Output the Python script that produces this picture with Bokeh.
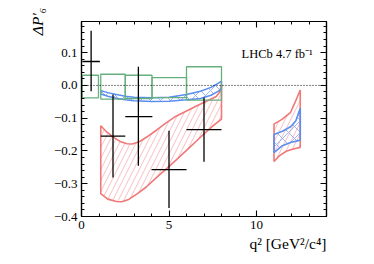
import numpy as np
from bokeh.plotting import figure
from bokeh.models import (LinearAxis, FixedTicker, CustomJSTickFormatter, Label,
                          Span, Range1d, Title)
from bokeh.embed import file_html
from bokeh.resources import INLINE

# ---------------- data ----------------
# LHCb data points
data_x = [0.55, 1.8, 3.25, 5.0, 7.0]
data_x_lo = [0.05, 1.1, 2.5, 4.0, 6.0]
data_x_hi = [1.05, 2.5, 4.05, 6.0, 8.0]
data_y = [0.073, -0.155, -0.095, -0.257, -0.135]
data_y_hi = [0.167, -0.028, 0.057, -0.138, -0.037]
data_y_lo = [-0.018, -0.281, -0.245, -0.374, -0.233]

# green boxes (prediction)
green_lo = [0.05, 1.1, 2.5, 4.03, 6.0]
green_hi = [0.97, 2.5, 4.03, 6.0, 8.0]
green_top = [0.031, 0.034, 0.031, 0.024, 0.057]
green_bot = [-0.038, -0.042, -0.040, -0.037, -0.045]

# red band, low q2
red1_up_x = [1.1, 1.4, 1.8, 2.2, 2.6, 2.9, 3.3, 3.8, 4.3, 4.8, 5.4, 6.0, 6.6, 7.2, 7.7, 7.9, 8.0]
red1_up_y = [-0.123, -0.140, -0.157, -0.171, -0.178, -0.179, -0.172, -0.155, -0.136,
             -0.116, -0.094, -0.078, -0.062, -0.047, -0.034, -0.020, 0.003]
red1_lo_x = [1.1, 1.5, 2.0, 2.3, 2.7, 3.2, 3.7, 4.2, 4.8, 5.4, 6.0, 6.6, 7.2, 7.6, 8.0]
red1_lo_y = [-0.330, -0.347, -0.354, -0.355, -0.348, -0.330, -0.310, -0.285, -0.257,
             -0.228, -0.198, -0.168, -0.138, -0.120, -0.103]

# red band, high q2
red2_up_x = [11.0, 11.48, 11.95, 12.2, 12.5]
red2_up_y = [-0.118, -0.103, -0.082, -0.052, -0.014]
red2_lo_x = [11.0, 11.3, 11.7, 12.1, 12.5]
red2_lo_y = [-0.232, -0.215, -0.201, -0.194, -0.189]

# blue band, low q2
blue1_up_x = [1.1, 1.5, 2.0, 2.5, 3.0, 4.0, 5.0, 6.0, 6.8, 7.4, 7.8, 8.0]
blue1_up_y = [-0.016, -0.022, -0.028, -0.033, -0.036, -0.038, -0.036, -0.028, -0.018,
              -0.006, 0.006, 0.013]
blue1_lo_x = [1.1, 1.5, 2.0, 2.5, 3.0, 4.0, 5.0, 6.0, 6.8, 7.4, 7.8, 8.0]
blue1_lo_y = [-0.026, -0.033, -0.039, -0.044, -0.047, -0.049, -0.048, -0.044, -0.040,
              -0.030, -0.018, -0.010]

# blue band, high q2
blue2_up_x = [11.0, 11.48, 11.95, 12.25, 12.5]
blue2_up_y = [-0.150, -0.140, -0.126, -0.108, -0.070]
blue2_lo_x = [11.0, 11.48, 11.95, 12.5]
blue2_lo_y = [-0.205, -0.184, -0.174, -0.167]

x_major = [0, 5, 10]
x_minor = list(range(0, 15))
y_major = [-0.4, -0.3, -0.2, -0.1, 0.0, 0.1]
y_minor = [round(-0.4 + 0.02 * i, 2) for i in range(0, 30)]

x_title = "q\u00b2 [GeV\u00b2/c\u2074]"
y_title = "\u0394P\u2032\u2086"
lumi_text = "LHCb 4.7 fb\u207b\u00b9"

# ---------------- figure ----------------
FONT = "Liberation Serif"
RED = "#f07878"
RED_H = "#f6b0b0"
BLUE = "#5b8def"
BLUE_H = "#7fa6f2"
GREEN = "#66b07e"

p = figure(width=358, height=260, output_backend="svg", toolbar_location=None,
           x_range=Range1d(0, 14), y_range=Range1d(-0.4, 0.195),
           min_border_left=81, min_border_right=32, min_border_top=21,
           min_border_bottom=44)
p.grid.visible = False
p.outline_line_color = "black"
p.outline_line_width = 1.2
p.background_fill_color = "white"
p.border_fill_color = "white"


def band(xu, yu, xl, yl, color, hcolor, pattern, scale, lw):
    xs = list(xu) + list(xl)[::-1]
    ys = list(yu) + list(yl)[::-1]
    p.patch(xs, ys, fill_alpha=0, line_color=color, line_width=lw,
            hatch_pattern=pattern, hatch_color=hcolor, hatch_scale=scale,
            hatch_weight=0.9, hatch_alpha=0.9)


band(red1_up_x, red1_up_y, red1_lo_x, red1_lo_y, RED, RED_H, "/", 11, 1.6)
band(red2_up_x, red2_up_y, red2_lo_x, red2_lo_y, RED, RED_H, "/", 11, 1.6)
band(blue1_up_x, blue1_up_y, blue1_lo_x, blue1_lo_y, BLUE, BLUE_H, "x", 10, 1.5)
band(blue2_up_x, blue2_up_y, blue2_lo_x, blue2_lo_y, BLUE, BLUE_H, "x", 12, 1.6)

p.quad(left=green_lo, right=green_hi, top=green_top, bottom=green_bot,
       fill_alpha=0, line_color=GREEN, line_width=1.3)

p.add_layout(Span(location=0, dimension="width", line_color="black",
                  line_dash="1 2", line_width=1.0))

p.segment(x0=data_x_lo, y0=data_y, x1=data_x_hi, y1=data_y, line_color="black",
          line_width=1.3)
p.segment(x0=data_x, y0=data_y_lo, x1=data_x, y1=data_y_hi, line_color="black",
          line_width=1.3)

# ---------------- axes ----------------
fmt = CustomJSTickFormatter(code="return tick.toFixed(1).replace('-', '\u2212');")
xfmt = CustomJSTickFormatter(code="return tick.toFixed(0);")
blank = CustomJSTickFormatter(code="return '';")


def style(ax):
    ax.axis_line_color = "black"
    ax.axis_line_width = 1.2
    ax.major_tick_in = 6
    ax.major_tick_out = 0
    ax.minor_tick_in = 3
    ax.minor_tick_out = 0
    ax.major_tick_line_color = "black"
    ax.minor_tick_line_color = "black"
    ax.major_tick_line_width = 1.1
    ax.minor_tick_line_width = 1.0
    ax.major_label_text_font = FONT
    ax.major_label_text_font_size = "13px"
    ax.major_label_text_color = "black"
    ax.axis_label_text_font = FONT
    ax.axis_label_text_font_size = "15.5px"
    ax.axis_label_text_color = "black"


xa = p.xaxis[0]
xa.ticker = FixedTicker(ticks=x_major, minor_ticks=x_minor)
xa.formatter = xfmt
style(xa)
xa.major_label_standoff = 4

ya = p.yaxis[0]
ya.ticker = FixedTicker(ticks=y_major, minor_ticks=y_minor)
ya.formatter = fmt
style(ya)
ya.major_label_standoff = 4
ya.axis_label = y_title
ya.axis_label_text_font_style = "italic"
ya.axis_label_standoff = 5

if "axis_label_align" in LinearAxis.properties():
    ya.axis_label_align = "end"

top = LinearAxis(ticker=FixedTicker(ticks=x_major, minor_ticks=x_minor), formatter=blank)
style(top)
p.add_layout(top, "above")
right = LinearAxis(ticker=FixedTicker(ticks=y_major, minor_ticks=y_minor), formatter=blank)
style(right)
p.add_layout(right, "right")

# x-axis title, right aligned below the axis
p.add_layout(Title(text=x_title, align="right", text_font=FONT,
                   text_font_size="15.5px", text_font_style="normal",
                   text_color="black", standoff=3, offset=0), "below")

# ---------------- labels ----------------
p.add_layout(Label(x=160, y=163, x_units="screen", y_units="screen",
                   text=lumi_text, text_font=FONT,
                   text_font_size="12.5px", text_align="left",
                   text_baseline="alphabetic", text_color="black"))

open("out.html", "w").write(file_html(p, INLINE))
